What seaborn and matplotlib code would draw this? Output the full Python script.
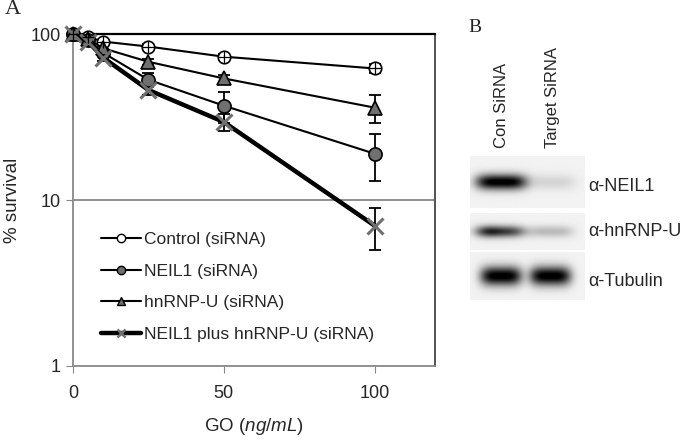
import matplotlib
matplotlib.use("Agg")
import matplotlib.pyplot as plt
import numpy as np
import pandas as pd
import seaborn as sns

# ---- panel A data ----
dose = [0, 5, 10, 25, 50, 100]
series_names = ["Control (siRNA)", "NEIL1 (siRNA)", "hnRNP-U (siRNA)",
                "NEIL1 plus hnRNP-U (siRNA)"]
control = [100, 96, 90, 84, 73, 62]
control_err = [0, 2, 2, 3, 3, 4]
neil1 = [100, 92, 77, 53, 37, 19]
neil1_err = [0, 2, 3, 5, 8, 6]
hnrnpu = [100, 93, 82, 68, 54, 36]
hnrnpu_err = [0, 2, 3, 3, 3, 7]
combo = [100, 90, 72, 46, 29.5, 7]
combo_err = [0, 2, 3, 3, 3.5, 2]

# ---- panel B data (relative band intensity: Con, Target) ----
blot_rows = ["α-NEIL1", "α-hnRNP-U", "α-Tubulin"]
lanes = ["Con SiRNA", "Target SiRNA"]
band_intensity = [[1.0, 0.12], [0.85, 0.22], [1.0, 1.0]]

sns.set_style("white")
plt.rcParams["font.family"] = ["Liberation Sans", "DejaVu Sans"]
plt.rcParams["mathtext.fontset"] = "custom"
plt.rcParams["mathtext.it"] = "Liberation Sans:italic"
plt.rcParams["mathtext.rm"] = "Liberation Sans"

df = pd.DataFrame({
    "dose": dose * 4,
    "survival": control + neil1 + hnrnpu + combo,
    "err": control_err + neil1_err + hnrnpu_err + combo_err,
    "group": sum([[n] * len(dose) for n in series_names], []),
})

fig = plt.figure(figsize=(6.93, 4.40), dpi=100)
ax = fig.add_axes([73 / 693, 1 - 366 / 440, 362 / 693, 332 / 440])

styles = {
    "Control (siRNA)": dict(marker="o", mfc="white", lw=1.5, ms=9),
    "NEIL1 (siRNA)": dict(marker="o", mfc="#707070", lw=1.5, ms=9.5),
    "hnRNP-U (siRNA)": dict(marker="^", mfc="#707070", lw=1.5, ms=9.5),
    "NEIL1 plus hnRNP-U (siRNA)": dict(marker="x", mfc="#707070", lw=3.2, ms=11),
}

ax.axhline(10, color="#888888", lw=1.3, zorder=1)

handles = []
for name in series_names:
    sub = df[df.group == name]
    st = styles[name]
    ax.errorbar(sub.dose, sub.survival, yerr=sub.err, fmt="none",
                ecolor="black", elinewidth=1.3, capsize=4, capthick=1.3,
                zorder=2, clip_on=False)
    if st["marker"] == "x":
        sns.lineplot(x=sub.dose, y=sub.survival, ax=ax, color="black",
                     lw=st["lw"], marker="x", markersize=st["ms"],
                     markeredgecolor="#707070", markeredgewidth=2.2,
                     clip_on=False, zorder=3)
    else:
        sns.lineplot(x=sub.dose, y=sub.survival, ax=ax, color="black",
                     lw=st["lw"], marker=st["marker"], markersize=st["ms"],
                     markerfacecolor=st["mfc"], markeredgecolor="black",
                     markeredgewidth=1.2, clip_on=False, zorder=3)
        if name == "Control (siRNA)":
            ax.plot(sub.dose, sub.survival, ls="none", marker="+", ms=8,
                    mec="black", mew=0.9, clip_on=False, zorder=4)
    h, = ax.plot([], [], color="black", lw=st["lw"] if st["marker"] == "x" else 1.5,
                 marker=st["marker"], ms=6,
                 mfc=st["mfc"], mec="#707070" if st["marker"] == "x" else "black",
                 mew=1.8 if st["marker"] == "x" else 1.0)
    handles.append(h)

ax.set_yscale("log")
ax.set_ylim(1, 100)
ax.set_xlim(0, 120)
ax.set_yticks([1, 10, 100])
ax.set_yticklabels(["1", "10", "100"])
ax.yaxis.set_minor_locator(matplotlib.ticker.NullLocator())
ax.set_xticks([0, 50, 100])
ax.tick_params(axis="both", which="major", direction="out", length=5,
               color="#888888", labelsize=13, left=True, bottom=True, pad=4)
ax.tick_params(axis="x", pad=9)

for s in ["left", "bottom"]:
    ax.spines[s].set_color("#888888")
    ax.spines[s].set_linewidth(1.3)
ax.spines["top"].set_color("black")
ax.spines["top"].set_linewidth(1.6)
ax.spines["right"].set_color("#444444")
ax.spines["right"].set_linewidth(1.3)

ax.set_xlabel("GO ($\\mathit{ng/mL}$)", fontsize=13.5, labelpad=10)
ax.set_ylabel("% survival", fontsize=13.5)
ax.yaxis.set_label_coords(-0.145, 0.5)

ax.legend(handles, series_names, loc="lower left", bbox_to_anchor=(0.035, 0.025),
          frameon=False, fontsize=12.5, handlelength=2.3, labelspacing=0.95,
          handletextpad=0.15)

fig.text(5 / 693, 1 - 10 / 440, "A", fontsize=16, family="Liberation Serif",
         va="center", ha="left")
fig.text(468 / 693, 1 - 28 / 440, "B", fontsize=14, family="Liberation Serif",
         va="center", ha="left")

# ---- panel B: western blot ----
lane_x = [502, 552]
for name, lx in zip(lanes, lane_x):
    fig.text(lx / 693, 1 - 148 / 440, name, rotation=90, fontsize=12,
             ha="center", va="bottom")

row_boxes = [(156, 208), (213, 250), (252, 300)]
row_label_y = [186, 232, 281]
band_width = [(0.22, 0.22), (0.22, 0.2), (0.18, 0.18)]
band_height = [0.15, 0.16, 0.2]
lane_centres = [0.27, 0.70]
for i, (row, (top, bot)) in enumerate(zip(blot_rows, row_boxes)):
    bax = fig.add_axes([470 / 693, 1 - bot / 440, 115 / 693, (bot - top) / 440])
    xx, yy = np.meshgrid(np.linspace(0, 1, 240), np.linspace(0, 1, 100))
    img = np.full_like(xx, 0.05)
    for j, c in enumerate(lane_centres):
        w = band_width[i][j]
        h = band_height[i]
        prof_x = np.exp(-np.abs((xx - c) / w) ** 4)
        prof_y = np.exp(-((yy - 0.5) / h) ** 2)
        if i == 1 and j == 0:
            prof_x = prof_x * (1.15 - 0.5 * (xx - (c - w)) / (2 * w)).clip(0.5, 1)
        img = img + band_intensity[i][j] * prof_x * prof_y
    bax.imshow(img.clip(0, 1), cmap="gray_r", vmin=0, vmax=1.0,
               aspect="auto", interpolation="bilinear")
    bax.set_xticks([])
    bax.set_yticks([])
    for s in bax.spines.values():
        s.set_visible(False)
    fig.text(588 / 693, 1 - row_label_y[i] / 440, row, fontsize=13,
             ha="left", va="center")

fig.savefig("out.png", dpi=100)
